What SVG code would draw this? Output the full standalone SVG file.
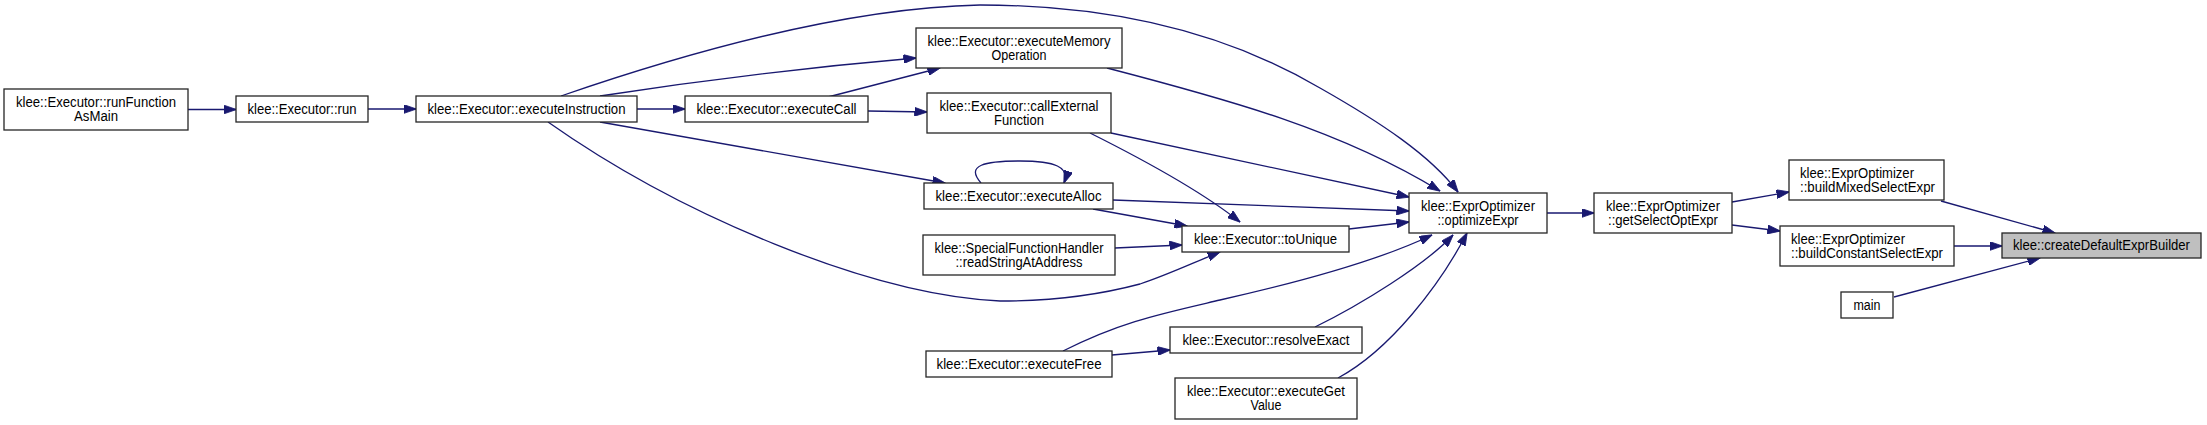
<svg xmlns="http://www.w3.org/2000/svg" width="2207" height="425" viewBox="0 0 2207 425">
<style>
.n rect{fill:#fff;stroke:#262626;stroke-width:1.3}
.n.hl rect{fill:#bfbfbf}
.n text{font-family:"Liberation Sans",Arial,sans-serif;font-size:14px;fill:#000;text-anchor:middle}
.n text.l{text-anchor:start}
.e path{fill:none;stroke:#191970;stroke-width:1.3;marker-end:url(#ah)}
</style>
<defs>
<marker id="ah" markerUnits="userSpaceOnUse" viewBox="0 0 13 9" refX="12.5" refY="4.5" markerWidth="13" markerHeight="9" orient="auto">
<path d="M0,0 L13,4.5 L0,9 Z" fill="#191970" stroke="#191970" stroke-width="0.8"/>
</marker>
</defs>
<rect width="2207" height="425" fill="#fff"/>
<g id="connectors" class="e">
<path d="M188,109.5 L236,109.5"/>
<path d="M368,109 L416,109"/>
<path d="M637,109 L685,109"/>
<path d="M600,96 C690,82 800,68 916,58"/>
<path d="M828,97 L940,68"/>
<path d="M868,111 L927,112"/>
<path d="M561,96 C680,55 840,8 980,5 C1120,5 1230,35 1320,88 C1380,122 1430,155 1458,192"/>
<path d="M1107,68 C1230,100 1340,130 1440,191"/>
<path d="M1111,133 L1409,197"/>
<path d="M1113,200 L1409,211"/>
<path d="M1349,229 L1409,222"/>
<path d="M1063,351 C1120,322 1160,314 1220,300 C1300,282 1380,260 1432,235"/>
<path d="M1315,327 C1360,305 1425,265 1453,235"/>
<path d="M1338,378 C1390,350 1440,285 1467,233"/>
<path d="M600,122 L945,183"/>
<path d="M548,122 C680,215 870,295 1000,301 C1060,301 1110,292 1140,284 C1165,276 1195,262 1220,252"/>
<path d="M981,183 C965,165 985,161 1020,161 C1055,161 1070,167 1064,183"/>
<path d="M1093,209 L1187,226"/>
<path d="M1115,248 L1182,245"/>
<path d="M1090,133 C1140,158 1200,190 1240,222"/>
<path d="M1112,355 L1170,350"/>
<path d="M1547,213 L1594,213"/>
<path d="M1732,202 L1789,192"/>
<path d="M1732,225 L1780,231"/>
<path d="M1941,201 L2055,233"/>
<path d="M1954,246 L2002,246"/>
<path d="M1894,297 L2040,258"/>
</g>
<g id="runFunctionAsMain" class="n"><rect x="4" y="89" width="184" height="41"/><text x="96" y="107.2" textLength="160" lengthAdjust="spacingAndGlyphs">klee::Executor::runFunction</text><text x="96" y="121.2" textLength="44" lengthAdjust="spacingAndGlyphs">AsMain</text></g>
<g id="run" class="n"><rect x="236" y="96" width="132" height="26"/><text x="302" y="113.7" textLength="109" lengthAdjust="spacingAndGlyphs">klee::Executor::run</text></g>
<g id="executeInstruction" class="n"><rect x="416" y="96" width="221" height="26"/><text x="526.5" y="113.7" textLength="198" lengthAdjust="spacingAndGlyphs">klee::Executor::executeInstruction</text></g>
<g id="executeCall" class="n"><rect x="685" y="96" width="183" height="26"/><text x="776.5" y="113.7" textLength="160" lengthAdjust="spacingAndGlyphs">klee::Executor::executeCall</text></g>
<g id="executeMemoryOperation" class="n"><rect x="916" y="28" width="206" height="40"/><text x="1019" y="45.7" textLength="183" lengthAdjust="spacingAndGlyphs">klee::Executor::executeMemory</text><text x="1019" y="59.7" textLength="55" lengthAdjust="spacingAndGlyphs">Operation</text></g>
<g id="callExternalFunction" class="n"><rect x="927" y="93" width="184" height="40"/><text x="1019" y="110.7" textLength="159" lengthAdjust="spacingAndGlyphs">klee::Executor::callExternal</text><text x="1019" y="124.7" textLength="50" lengthAdjust="spacingAndGlyphs">Function</text></g>
<g id="executeAlloc" class="n"><rect x="924" y="183" width="189" height="26"/><text x="1018.5" y="200.7" textLength="166" lengthAdjust="spacingAndGlyphs">klee::Executor::executeAlloc</text></g>
<g id="readStringAtAddress" class="n"><rect x="923" y="235" width="192" height="40"/><text x="1019" y="252.7" textLength="169" lengthAdjust="spacingAndGlyphs">klee::SpecialFunctionHandler</text><text x="1019" y="266.7" textLength="127" lengthAdjust="spacingAndGlyphs">::readStringAtAddress</text></g>
<g id="toUnique" class="n"><rect x="1182" y="226" width="167" height="26"/><text x="1265.5" y="243.7" textLength="143" lengthAdjust="spacingAndGlyphs">klee::Executor::toUnique</text></g>
<g id="optimizeExpr" class="n"><rect x="1409" y="193" width="138" height="40"/><text x="1478" y="210.7" textLength="114" lengthAdjust="spacingAndGlyphs">klee::ExprOptimizer</text><text x="1478" y="224.7" textLength="81" lengthAdjust="spacingAndGlyphs">::optimizeExpr</text></g>
<g id="getSelectOptExpr" class="n"><rect x="1594" y="193" width="138" height="40"/><text x="1663" y="210.7" textLength="114" lengthAdjust="spacingAndGlyphs">klee::ExprOptimizer</text><text x="1663" y="224.7" textLength="110" lengthAdjust="spacingAndGlyphs">::getSelectOptExpr</text></g>
<g id="buildMixedSelectExpr" class="n"><rect x="1789" y="160" width="155" height="40"/><text class="l" x="1800" y="177.7" textLength="114" lengthAdjust="spacingAndGlyphs">klee::ExprOptimizer</text><text class="l" x="1800" y="191.7" textLength="135" lengthAdjust="spacingAndGlyphs">::buildMixedSelectExpr</text></g>
<g id="buildConstantSelectExpr" class="n"><rect x="1780" y="226" width="174" height="40"/><text class="l" x="1791" y="243.7" textLength="114" lengthAdjust="spacingAndGlyphs">klee::ExprOptimizer</text><text class="l" x="1791" y="257.7" textLength="152" lengthAdjust="spacingAndGlyphs">::buildConstantSelectExpr</text></g>
<g id="createDefaultExprBuilder" class="n hl"><rect x="2002" y="233" width="199" height="25"/><text x="2101.5" y="250.2" textLength="177" lengthAdjust="spacingAndGlyphs">klee::createDefaultExprBuilder</text></g>
<g id="main" class="n"><rect x="1841" y="292" width="52" height="26"/><text x="1867" y="309.7" textLength="27" lengthAdjust="spacingAndGlyphs">main</text></g>
<g id="resolveExact" class="n"><rect x="1170" y="327" width="192" height="26"/><text x="1266" y="344.7" textLength="167" lengthAdjust="spacingAndGlyphs">klee::Executor::resolveExact</text></g>
<g id="executeFree" class="n"><rect x="926" y="351" width="186" height="26"/><text x="1019" y="368.7" textLength="165" lengthAdjust="spacingAndGlyphs">klee::Executor::executeFree</text></g>
<g id="executeGetValue" class="n"><rect x="1175" y="378" width="182" height="41"/><text x="1266" y="396.2" textLength="158" lengthAdjust="spacingAndGlyphs">klee::Executor::executeGet</text><text x="1266" y="410.2" textLength="31" lengthAdjust="spacingAndGlyphs">Value</text></g>
</svg>
